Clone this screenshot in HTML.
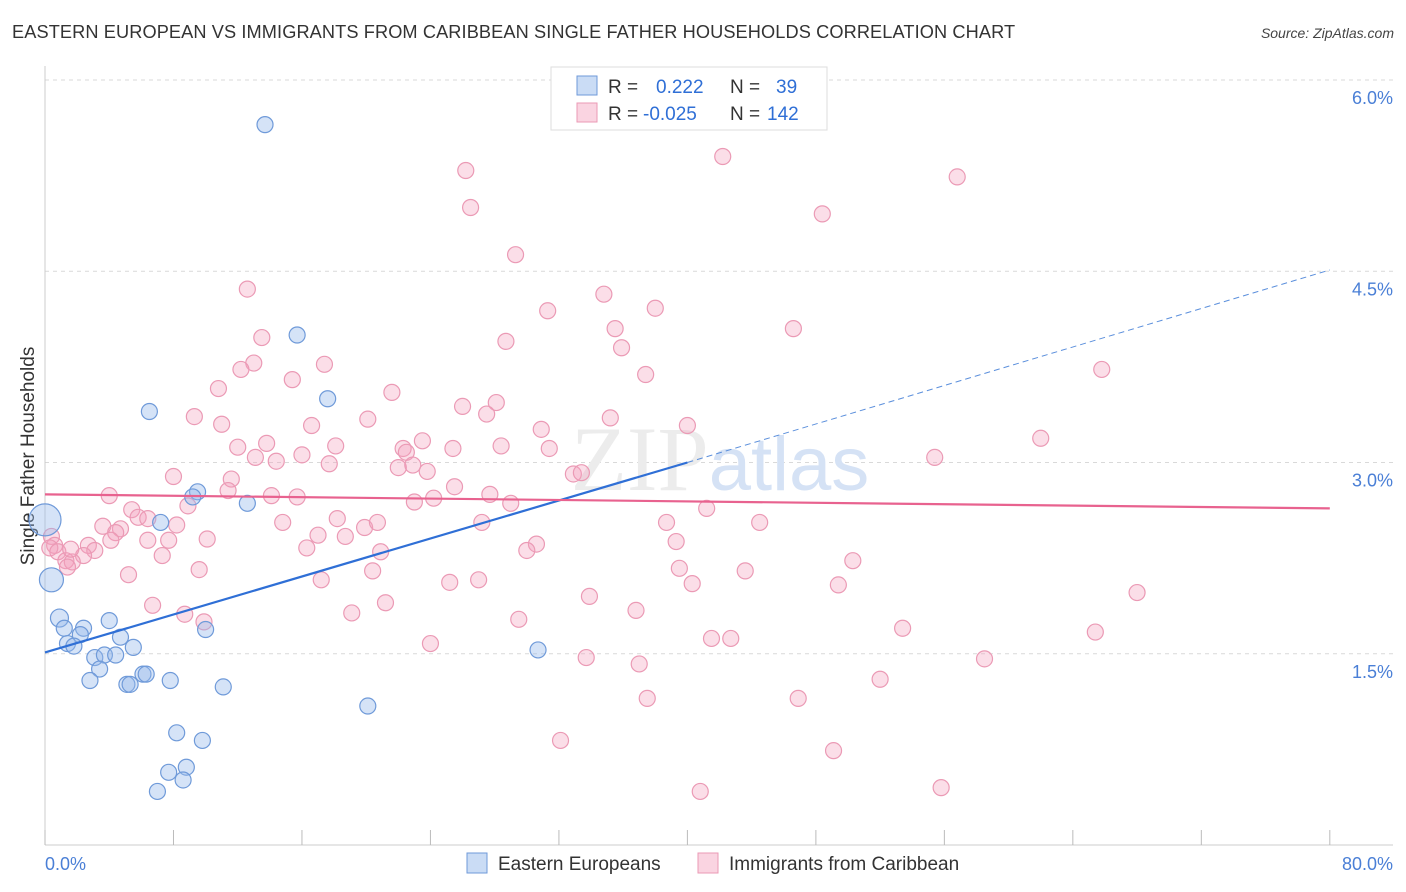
<!DOCTYPE html>
<html><head><meta charset="utf-8">
<style>
body{margin:0;background:#fff;font-family:"Liberation Sans",sans-serif;}
#wrap{position:relative;width:1406px;height:892px;overflow:hidden;}
.title{position:absolute;left:12px;top:22px;font-size:18.2px;color:#333;letter-spacing:0.1px;}
.source{position:absolute;right:12px;top:25px;font-size:14px;color:#444;font-style:italic;}
</style></head>
<body>
<div id="wrap">
<div class="title">EASTERN EUROPEAN VS IMMIGRANTS FROM CARIBBEAN SINGLE FATHER HOUSEHOLDS CORRELATION CHART</div>
<div class="source">Source: ZipAtlas.com</div>
<svg id="chart" width="1406" height="892" style="position:absolute;left:0;top:0"></svg>
</div>
<script>
const xTicks=[0,8,16,24,32,40,48,56,64,72,80];
const yTicks=[1.5,3.0,4.5,6.0];
const yTickLabels=["1.5%","3.0%","4.5%","6.0%"];
const blueX=[13.7,15.7,6.5,17.6,9.5,9.2,12.6,7.2,0,0.4,0.9,4.0,1.2,2.4,2.2,4.7,1.4,1.8,5.5,3.1,3.7,4.4,10.0,3.4,2.8,6.1,6.3,5.1,5.3,7.8,11.1,30.7,20.1,8.2,9.8,7.7,8.8,8.6,7.0];
const blueY=[5.65,4.00,3.40,3.50,2.77,2.73,2.68,2.53,2.55,2.08,1.78,1.76,1.70,1.70,1.65,1.63,1.58,1.56,1.55,1.47,1.49,1.49,1.69,1.38,1.29,1.34,1.34,1.26,1.26,1.29,1.24,1.53,1.09,0.88,0.82,0.57,0.61,0.51,0.42];
const blueR=[8,8,8,8,8,8,8,8,16,12,9,8,8,8,8,8,8,8,8,8,8,8,8,8,8,8,8,8,8,8,8,8,8,8,8,8,8,8,8];
const pinkX=[26.2,42.2,56.8,26.5,48.4,29.3,12.6,34.8,31.3,38.0,35.5,46.6,13.5,28.7,35.9,13.0,17.4,12.2,37.4,65.8,15.4,10.8,21.6,9.3,26.0,28.1,27.5,35.2,20.1,11.0,40.0,16.6,30.9,62.0,12.0,13.8,18.1,28.4,23.5,22.3,22.5,25.4,31.4,13.1,16.0,14.4,55.4,17.7,22.0,22.9,23.8,8.0,11.6,32.9,33.4,25.5,11.4,4.0,14.1,15.7,23.0,24.2,27.7,29.0,8.9,41.2,5.4,18.2,19.9,20.7,14.8,5.8,6.4,8.2,44.5,38.7,3.6,4.7,4.4,0.4,27.2,17.0,18.7,6.4,7.7,10.1,4.1,0.6,2.7,3.1,0.3,0.8,39.3,30.6,30.0,16.3,20.9,2.4,7.3,1.3,1.7,50.3,1.4,9.6,20.4,39.5,43.6,5.2,17.2,25.2,27.0,40.3,49.4,68.0,33.9,21.2,6.7,36.8,19.1,8.7,9.9,29.5,53.4,65.4,41.5,42.7,24.0,33.7,58.5,37.0,52.0,37.5,46.9,32.1,49.1,40.8,55.8,1.6];
const pinkY=[5.29,5.40,5.24,5.00,4.95,4.63,4.36,4.32,4.19,4.21,4.05,4.05,3.98,3.95,3.90,3.78,3.77,3.73,3.69,3.73,3.65,3.58,3.55,3.36,3.44,3.47,3.38,3.35,3.34,3.30,3.29,3.29,3.26,3.19,3.12,3.15,3.13,3.13,3.17,3.11,3.08,3.11,3.11,3.04,3.06,3.01,3.04,2.99,2.96,2.98,2.93,2.89,2.87,2.91,2.92,2.81,2.78,2.74,2.74,2.73,2.69,2.72,2.75,2.68,2.66,2.64,2.63,2.56,2.49,2.53,2.53,2.57,2.56,2.51,2.53,2.53,2.50,2.48,2.45,2.42,2.53,2.43,2.42,2.39,2.39,2.40,2.39,2.35,2.35,2.31,2.33,2.30,2.38,2.36,2.31,2.33,2.30,2.27,2.27,2.23,2.22,2.23,2.18,2.16,2.15,2.17,2.15,2.12,2.08,2.06,2.08,2.05,2.04,1.98,1.95,1.90,1.88,1.84,1.82,1.81,1.75,1.77,1.70,1.67,1.62,1.62,1.58,1.47,1.46,1.42,1.30,1.15,1.15,0.82,0.74,0.42,0.45,2.32];
const blueLine=[[0,1.51],[40,3.0],[80,4.51]];
const pinkLine=[[0,2.75],[80,2.64]];

const sx=v=>45+v*16.06;
const sy=v=>845-v*127.5;
const svg=document.getElementById('chart');
const NS='http://www.w3.org/2000/svg';
function mk(tag,attrs,parent){const e=document.createElementNS(NS,tag);for(const k in attrs)e.setAttribute(k,attrs[k]);(parent||svg).appendChild(e);return e;}

yTicks.forEach((t,i)=>{
  const g=mk('line',{x1:45,x2:1393,y1:sy(t),y2:sy(t),stroke:'#d9d9d9','stroke-dasharray':'4,4','stroke-width':1});
  
  
  const tx=mk('text',{x:1393,y:sy(t)+24,'text-anchor':'end','font-size':18,fill:'#4a7fd6'});
  tx.textContent=yTickLabels[i];
  
  
});
const ax=mk('line',{x1:45,x2:1393,y1:845,y2:845,stroke:'#ccc'});


const ay=mk('line',{x1:45,x2:45,y1:66,y2:845,stroke:'#ccc'});


xTicks.forEach(t=>{
  const l=mk('line',{x1:sx(t),x2:sx(t),y1:830,y2:845,stroke:'#bbb'});
  
  
});
const xl0=mk('text',{x:45,y:870,'font-size':18,fill:'#4a7fd6'});xl0.textContent='0.0%';


const xl1=mk('text',{x:1393,y:870,'font-size':18,fill:'#4a7fd6','text-anchor':'end'});xl1.textContent='80.0%';


const yt=mk('text',{x:34,y:456,'font-size':19,fill:'#333','text-anchor':'middle',transform:'rotate(-90 34 456)'});
yt.textContent='Single Father Households';



const wm=mk('text',{x:720,y:490,'text-anchor':'middle','font-size':92,fill:'#ececec','font-family':'Liberation Serif,serif'});
wm.innerHTML='ZIP<tspan fill="#d5e2f5" font-family="Liberation Sans,sans-serif" font-size="76">atlas</tspan>';



pinkX.forEach((v,i)=>{
  const c=mk('circle',{cx:sx(v),cy:sy(pinkY[i]),r:8,fill:'rgba(244,160,188,0.35)',stroke:'#eb9ab5','stroke-width':1.2});
  
  
});
blueX.forEach((v,i)=>{
  const c=mk('circle',{cx:sx(v),cy:sy(blueY[i]),r:blueR[i],fill:'rgba(150,185,235,0.4)',stroke:'#6f9ad9','stroke-width':1.2});
  
  
});
const bl1=mk('line',{x1:sx(blueLine[0][0]),y1:sy(blueLine[0][1]),x2:sx(blueLine[1][0]),y2:sy(blueLine[1][1]),stroke:'#2f6fd6','stroke-width':2.2});


const bl2=mk('line',{x1:sx(blueLine[1][0]),y1:sy(blueLine[1][1]),x2:sx(blueLine[2][0]),y2:sy(blueLine[2][1]),stroke:'#5b8fdc','stroke-width':1,'stroke-dasharray':'6,4'});


const pl=mk('line',{x1:sx(pinkLine[0][0]),y1:sy(pinkLine[0][1]),x2:sx(pinkLine[1][0]),y2:sy(pinkLine[1][1]),stroke:'#e8628f','stroke-width':2.2});



const lg=mk('g',{});


mk('rect',{x:551,y:67,width:276,height:63,fill:'#fff',stroke:'#ddd'},lg);
mk('rect',{x:577,y:76,width:20,height:19,fill:'rgba(150,185,235,0.5)',stroke:'#6f9ad9'},lg);
mk('rect',{x:577,y:103,width:20,height:19,fill:'rgba(244,160,188,0.45)',stroke:'#eb9ab5'},lg);
const t1=mk('text',{x:608,y:93,'font-size':19,fill:'#333'},lg);
t1.innerHTML='R = <tspan x="656" fill="#2f6fd6">0.222</tspan><tspan x="730">N = </tspan><tspan x="776" fill="#2f6fd6">39</tspan>';
const t2=mk('text',{x:608,y:120,'font-size':19,fill:'#333'},lg);
t2.innerHTML='R = <tspan x="643" fill="#2f6fd6">-0.025</tspan><tspan x="730">N = </tspan><tspan x="767" fill="#2f6fd6">142</tspan>';

const b1=mk('g',{});


mk('rect',{x:467,y:853,width:20,height:20,fill:'rgba(150,185,235,0.5)',stroke:'#6f9ad9'},b1);
const bt1=mk('text',{x:498,y:870,'font-size':19,fill:'#333'},b1);bt1.textContent='Eastern Europeans';
const b2=mk('g',{});


mk('rect',{x:698,y:853,width:20,height:20,fill:'rgba(244,160,188,0.45)',stroke:'#eb9ab5'},b2);
const bt2=mk('text',{x:729,y:870,'font-size':19,fill:'#333'},b2);bt2.textContent='Immigrants from Caribbean';
</script>
</body></html>
